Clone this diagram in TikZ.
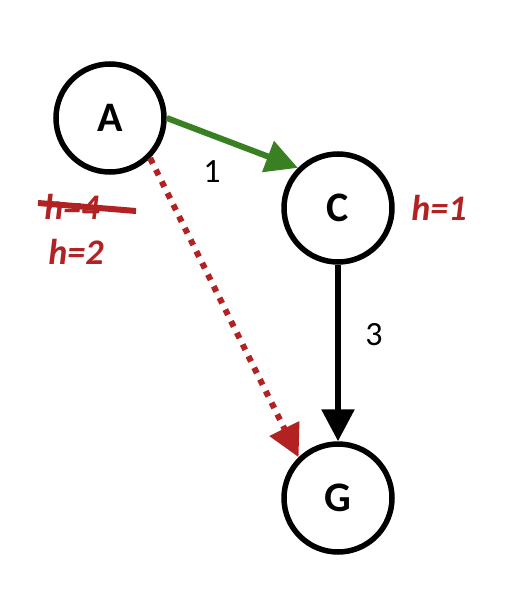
\documentclass[tikz,border=0pt]{standalone}
\usepackage{fontspec}
\setmainfont{Carlito}
\usetikzlibrary{arrows.meta}
\definecolor{hred}{RGB}{178,34,34}
\definecolor{egreen}{RGB}{56,128,34}
\tikzset{
  state/.style={circle,draw=black,line width=5.5pt,minimum size=108pt,inner sep=0pt,font=\fontsize{42}{46}\selectfont\bfseries},
  hlab/.style={text=hred,font=\fontsize{36}{40}\selectfont\bfseries\itshape},
  wlab/.style={font=\fontsize{34}{38}\selectfont},
  bigtip/.style={-{Triangle[length=32pt,width=32pt]}}
}
\begin{document}
\begin{tikzpicture}[x=1pt,y=-1pt]
\useasboundingbox (0,0) rectangle (530,604);
\node[state] (A) at (110,118) {A};
\node[state] (C) at (338,208) {C};
\node[state] (G) at (338,498) {G};
\draw[bigtip,egreen,line width=6pt] (A.east) -- (C.135);
\draw[bigtip,black,line width=6pt] (C.south) -- (G.north);
\draw[hred,line width=6pt,dash pattern=on 6pt off 7pt,-{Triangle[length=32pt,width=32pt,fill=hred]}] (A.-45) -- (G.134);
\node[wlab] (w1) at (212,172) {1};
\node[wlab] (w3) at (374,335) {3};
\node[hlab] (hC) at (439,208) {h=1};
\node[hlab] (h4) at (72,207) {h=4};
\node[hlab] (h2) at (76,252) {h=2};
\coordinate (s1) at (38,203);
\coordinate (s2) at (136,211);
\draw[hred,line width=6pt] (s1) -- (s2);
\end{tikzpicture}
\end{document}
